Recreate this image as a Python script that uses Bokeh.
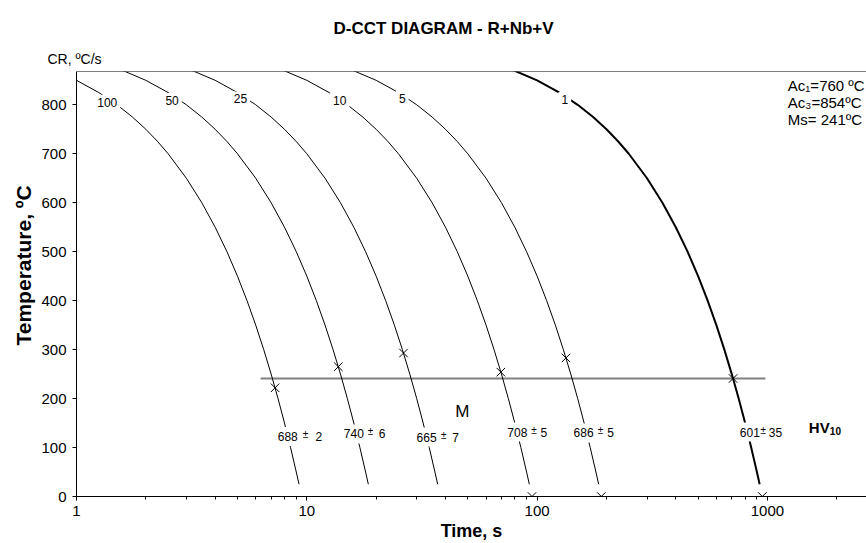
from bokeh.plotting import figure
from bokeh.models import Range1d, Span, Label, FixedTicker, Title
from bokeh.embed import file_html
from bokeh.resources import INLINE

FONT = "Liberation Sans"

# ---- data -------------------------------------------------------------
cooling_rates = ["100", "50", "25", "10", "5", "1"]

# temperatures (ºC) sampled along every cooling curve
curve_temps = [925, 900, 875, 850, 825, 800, 775, 750, 725, 700,
               650, 600, 550, 500, 450, 400, 350, 300, 250, 200,
               150, 100, 50, 25]

# times (s) at which each curve reaches the temperatures above
t_cr100 = [0.25, 0.5, 0.75, 1.0, 1.25, 1.5, 1.75, 2.0, 2.25, 2.5,
           3.0, 3.5, 4.0, 4.5, 5.0, 5.5, 6.0, 6.5, 7.0, 7.5,
           8.0, 8.5, 9.0, 9.25]
t_cr50 = [0.5, 1, 1.5, 2, 2.5, 3, 3.5, 4, 4.5, 5,
          6, 7, 8, 9, 10, 11, 12, 13, 14, 15,
          16, 17, 18, 18.5]
t_cr25 = [1, 2, 3, 4, 5, 6, 7, 8, 9, 10,
          12, 14, 16, 18, 20, 22, 24, 26, 28, 30,
          32, 34, 36, 37]
t_cr10 = [2.5, 5, 7.5, 10, 12.5, 15, 17.5, 20, 22.5, 25,
          30, 35, 40, 45, 50, 55, 60, 65, 70, 75,
          80, 85, 90, 92.5]
t_cr5 = [5, 10, 15, 20, 25, 30, 35, 40, 45, 50,
         60, 70, 80, 90, 100, 110, 120, 130, 140, 150,
         160, 170, 180, 185]
t_cr1 = [25, 50, 75, 100, 125, 150, 175, 200, 225, 250,
         300, 350, 400, 450, 500, 550, 600, 650, 700, 750,
         800, 850, 900, 925]
curve_times = [t_cr100, t_cr50, t_cr25, t_cr10, t_cr5, t_cr1]

# transformation points marked on each curve
trans_times = [7.28, 13.7, 26.3, 69.6, 133.4, 709]
trans_temps = [222, 265, 293, 254, 283, 241]

# end of cooling (room temperature) markers
end_times = [95, 190, 950]
end_temps = [0, 0, 0]

# martensite start
ms_temp = 241
ms_times = [6.3, 980]

# hardness HV10 per cooling rate
hardness = ["688", "740", "665", "708", "686", "601"]
hardness_sd = ["2", "6", "7", "5", "5", "35"]

y_ticks = [0, 100, 200, 300, 400, 500, 600, 700, 800]
x_ticks = [1, 10, 100, 1000]
x_tick_labels = ["1", "10", "100", "1000"]
x_minor = [2, 3, 4, 5, 6, 7, 8, 9, 20, 30, 40, 50, 60, 70, 80, 90,
           200, 300, 400, 500, 600, 700, 800, 900, 2000]

# ---- figure -----------------------------------------------------------
p = figure(width=866, height=543, x_axis_type="log",
           x_range=Range1d(1, 2692), y_range=Range1d(0, 868),
           output_backend="svg", toolbar_location=None,
           min_border_left=76, min_border_right=0,
           min_border_top=71, min_border_bottom=47)
p.outline_line_color = None
p.background_fill_color = "white"
p.border_fill_color = "white"
p.xgrid.visible = False
p.ygrid.visible = False

for ax in (p.xaxis[0], p.yaxis[0]):
    ax.axis_line_color = "black"
    ax.axis_line_width = 1
    ax.major_tick_line_color = "black"
    ax.major_tick_in = 0
    ax.major_tick_out = 4
    ax.major_label_text_font = FONT
    ax.major_label_text_font_size = "15px"
    ax.major_label_text_color = "black"
    ax.major_label_standoff = 6

p.yaxis.ticker = FixedTicker(ticks=y_ticks)
p.yaxis.minor_tick_line_color = None
p.xaxis.ticker = FixedTicker(ticks=x_ticks, minor_ticks=x_minor)
p.xaxis.major_label_overrides = {t: s for t, s in zip(x_ticks, x_tick_labels)}
p.xaxis.minor_tick_line_color = "black"
p.xaxis.minor_tick_in = 0
p.xaxis.minor_tick_out = 3
p.xaxis.major_label_standoff = 5

p.xaxis.axis_label = "Time, s"
p.xaxis.axis_label_text_font = FONT
p.xaxis.axis_label_text_font_size = "18px"
p.xaxis.axis_label_text_font_style = "bold"
p.xaxis.axis_label_text_color = "black"
p.xaxis.axis_label_standoff = 2

# outer texts as side-panel titles (first added sits closest to the frame)
p.add_layout(Title(text="CR, ºC/s", align="left", offset=-29, standoff=10,
                   text_font=FONT, text_font_size="14px", text_font_style="normal",
                   text_color="black"), "above")
p.add_layout(Title(text="D-CCT DIAGRAM - R+Nb+V", align="left", offset=257, standoff=12,
                   text_font=FONT, text_font_size="17px", text_font_style="bold",
                   text_color="black"), "above")
p.add_layout(Title(text="Temperature, ºC", align="left", offset=151, standoff=8,
                   text_font=FONT, text_font_size="21px", text_font_style="bold",
                   text_color="black"), "left")

# top frame line
p.add_layout(Span(location=868, dimension="width", line_color="black", line_width=1))

# Ms line
p.line(ms_times, [ms_temp, ms_temp], line_color="#808080", line_width=2)

# cooling curves
for i, ts in enumerate(curve_times):
    p.line(ts, curve_temps, line_color="black",
           line_width=2 if cooling_rates[i] == "1" else 1)

# markers
p.scatter(trans_times, trans_temps, marker="x", size=12, line_color="black", line_width=1)
p.scatter(end_times, end_temps, marker="x", size=12, line_color="black", line_width=1)

# cooling-rate labels (white box cuts the curve behind them)
cr_pos = [(1.36, 805), (2.60, 809), (5.15, 812), (13.9, 809), (25.96, 813.5), (131.9, 811)]
for txt, (x, y) in zip(cooling_rates, cr_pos):
    p.add_layout(Label(x=x, y=y, text=txt, text_font=FONT, text_font_size="12px",
                       text_color="black", text_align="center", text_baseline="middle",
                       background_fill_color="white", padding=3))

# hardness labels: value, small "±", deviation
hv_pos = [(7.48, 122.5), (14.48, 127.7), (29.95, 121.5), (74.2, 131.7), (143.9, 129.7), (758.6, 131.7)]
pm_off = [27.7, 26.7, 27.3, 26.6, 27.0, 23.4]
sd_off = [37.7, 35.0, 35.7, 33.3, 33.7, 29.0]
PAD = 5
for i, (x, y) in enumerate(hv_pos):
    p.add_layout(Label(x=x, y=y, x_offset=-PAD, text=hardness[i], text_font=FONT,
                       text_font_size="12px", text_color="black",
                       text_align="left", text_baseline="middle",
                       background_fill_color="white", padding=PAD))
    p.add_layout(Label(x=x, y=y, x_offset=pm_off[i], y_offset=2, text="±",
                       text_font=FONT, text_font_size="10px", text_color="black",
                       text_align="center", text_baseline="middle"))
    p.add_layout(Label(x=x, y=y, x_offset=sd_off[i], text=hardness_sd[i],
                       text_font=FONT, text_font_size="12px", text_color="black",
                       text_align="left", text_baseline="middle"))

p.add_layout(Label(x=1513, y=141, text="HV", text_font=FONT, text_font_size="15px",
                   text_font_style="bold", text_color="black",
                   text_align="left", text_baseline="middle"))
p.add_layout(Label(x=1513, y=141, x_offset=21, y_offset=-4, text="10", text_font=FONT,
                   text_font_size="10px", text_font_style="bold", text_color="black",
                   text_align="left", text_baseline="middle"))

p.add_layout(Label(x=47.3, y=174, text="M", text_font=FONT, text_font_size="17px",
                   text_color="black", text_align="center", text_baseline="middle"))

# transformation temperatures (top right)
for txt, yy in zip(["Ac₁=760 ºC", "Ac₃=854ºC", "Ms= 241ºC"], [411, 394.3, 376.7]):
    p.add_layout(Label(x=711.3, y=yy, x_units="screen", y_units="screen", text=txt,
                       text_font=FONT, text_font_size="15px", text_color="black",
                       text_align="left", text_baseline="middle"))

open("out.html", "w").write(file_html(p, INLINE))
